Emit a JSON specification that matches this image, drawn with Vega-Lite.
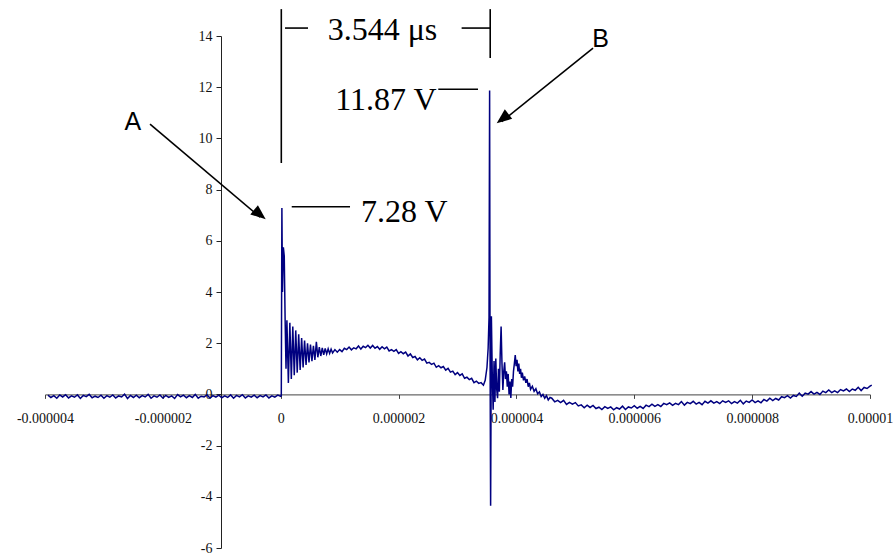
{
  "$schema": "https://vega.github.io/schema/vega-lite/v6.json",
  "width": 825,
  "height": 512,
  "autosize": "none",
  "padding": {"left": 45, "top": 36, "right": 24, "bottom": 5},
  "background": "white",
  "config": {"view": {"stroke": null}},
  "datasets": {
    "wave": [
      {"t":-3.95,"v":-0.03},{"t":-3.9,"v":-0.12},{"t":-3.85,"v":-0.05},{"t":-3.8,"v":-0.15},{"t":-3.75,"v":-0.02},{"t":-3.7,"v":-0.1},{"t":-3.65,"v":-0.01},{"t":-3.6,"v":-0.14},{"t":-3.55,"v":-0.06},{"t":-3.5,"v":-0.11},
      {"t":-3.45,"v":-0.02},{"t":-3.4,"v":-0.16},{"t":-3.35,"v":-0.04},{"t":-3.3,"v":-0.09},{"t":-3.25,"v":0.0},{"t":-3.2,"v":-0.13},{"t":-3.15,"v":-0.07},{"t":-3.1,"v":-0.12},{"t":-3.05,"v":-0.03},{"t":-3.0,"v":-0.15},
      {"t":-2.95,"v":-0.05},{"t":-2.9,"v":-0.11},{"t":-2.85,"v":-0.02},{"t":-2.8,"v":-0.14},{"t":-2.75,"v":-0.06},{"t":-2.7,"v":-0.1},{"t":-2.65,"v":0.01},{"t":-2.6,"v":-0.16},{"t":-2.55,"v":-0.04},{"t":-2.5,"v":-0.12},
      {"t":-2.45,"v":-0.03},{"t":-2.4,"v":-0.13},{"t":-2.35,"v":-0.05},{"t":-2.3,"v":-0.1},{"t":-2.25,"v":0.0},{"t":-2.2,"v":-0.15},{"t":-2.15,"v":-0.06},{"t":-2.1,"v":-0.11},{"t":-2.05,"v":-0.02},{"t":-2.0,"v":-0.14},
      {"t":-1.95,"v":-0.04},{"t":-1.9,"v":-0.12},{"t":-1.85,"v":-0.06},{"t":-1.8,"v":-0.16},{"t":-1.75,"v":-0.01},{"t":-1.7,"v":-0.1},{"t":-1.65,"v":-0.03},{"t":-1.6,"v":-0.13},{"t":-1.55,"v":-0.05},{"t":-1.5,"v":-0.12},
      {"t":-1.45,"v":0.0},{"t":-1.4,"v":-0.15},{"t":-1.35,"v":-0.07},{"t":-1.3,"v":-0.1},{"t":-1.25,"v":-0.02},{"t":-1.2,"v":-0.14},{"t":-1.15,"v":-0.05},{"t":-1.1,"v":-0.11},{"t":-1.05,"v":-0.03},{"t":-1.0,"v":-0.13},
      {"t":-0.95,"v":-0.06},{"t":-0.9,"v":-0.12},{"t":-0.85,"v":-0.02},{"t":-0.8,"v":-0.15},{"t":-0.75,"v":-0.04},{"t":-0.7,"v":-0.1},{"t":-0.65,"v":-0.01},{"t":-0.6,"v":-0.14},{"t":-0.55,"v":-0.06},{"t":-0.5,"v":-0.11},
      {"t":-0.45,"v":-0.03},{"t":-0.4,"v":-0.13},{"t":-0.35,"v":-0.05},{"t":-0.3,"v":-0.1},{"t":-0.25,"v":-0.02},{"t":-0.2,"v":-0.14},{"t":-0.15,"v":-0.06},{"t":-0.1,"v":-0.11},{"t":-0.05,"v":-0.03},{"t":0.0,"v":-0.08},
      {"t":0.01,"v":-0.05},{"t":0.02,"v":7.28},{"t":0.03,"v":4.0},{"t":0.045,"v":5.75},{"t":0.06,"v":5.4},{"t":0.075,"v":2.9},{"t":0.09,"v":1.0},
      {"t":0.105,"v":2.9},{"t":0.13,"v":0.45},{"t":0.155,"v":2.8},{"t":0.18,"v":0.6},{"t":0.205,"v":2.65},{"t":0.23,"v":0.75},{"t":0.255,"v":2.5},{"t":0.28,"v":0.85},{"t":0.305,"v":2.35},{"t":0.33,"v":0.95},
      {"t":0.355,"v":2.2},{"t":0.38,"v":1.05},{"t":0.405,"v":2.1},{"t":0.43,"v":1.15},{"t":0.455,"v":2.0},{"t":0.48,"v":1.25},{"t":0.505,"v":1.95},{"t":0.53,"v":1.3},{"t":0.555,"v":1.9},{"t":0.58,"v":1.35},
      {"t":0.605,"v":2.05},{"t":0.63,"v":1.45},{"t":0.655,"v":1.85},{"t":0.68,"v":1.5},{"t":0.705,"v":1.82},{"t":0.73,"v":1.55},{"t":0.755,"v":1.8},{"t":0.78,"v":1.58},{"t":0.805,"v":1.78},{"t":0.83,"v":1.6},
      {"t":0.855,"v":1.77},{"t":0.88,"v":1.62},
      {"t":0.92,"v":1.75},{"t":0.96,"v":1.65},{"t":1.0,"v":1.75},{"t":1.04,"v":1.67},{"t":1.08,"v":1.8},{"t":1.12,"v":1.75},{"t":1.16,"v":1.85},{"t":1.2,"v":1.74},{"t":1.24,"v":1.82},{"t":1.28,"v":1.78},
      {"t":1.32,"v":1.89},{"t":1.36,"v":1.77},{"t":1.4,"v":1.88},{"t":1.44,"v":1.83},{"t":1.48,"v":1.92},{"t":1.52,"v":1.81},{"t":1.56,"v":1.91},{"t":1.6,"v":1.8},{"t":1.64,"v":1.87},{"t":1.68,"v":1.76},
      {"t":1.72,"v":1.86},{"t":1.76,"v":1.78},{"t":1.8,"v":1.85},{"t":1.84,"v":1.7},{"t":1.88,"v":1.75},{"t":1.92,"v":1.68},{"t":1.96,"v":1.75},{"t":2.0,"v":1.6},{"t":2.04,"v":1.67},{"t":2.08,"v":1.59},
      {"t":2.12,"v":1.65},{"t":2.16,"v":1.5},{"t":2.2,"v":1.58},{"t":2.24,"v":1.44},{"t":2.28,"v":1.48},{"t":2.32,"v":1.35},{"t":2.36,"v":1.43},{"t":2.4,"v":1.33},{"t":2.44,"v":1.38},{"t":2.48,"v":1.22},
      {"t":2.52,"v":1.25},{"t":2.56,"v":1.17},{"t":2.6,"v":1.22},{"t":2.64,"v":1.06},{"t":2.68,"v":1.12},{"t":2.72,"v":1.04},{"t":2.76,"v":1.09},{"t":2.8,"v":0.95},{"t":2.84,"v":1.02},{"t":2.88,"v":0.87},
      {"t":2.92,"v":0.91},{"t":2.96,"v":0.77},{"t":3.0,"v":0.85},{"t":3.04,"v":0.74},{"t":3.08,"v":0.8},{"t":3.12,"v":0.63},{"t":3.16,"v":0.67},{"t":3.2,"v":0.58},{"t":3.24,"v":0.63},{"t":3.28,"v":0.46},
      {"t":3.32,"v":0.52},{"t":3.36,"v":0.43},{"t":3.4,"v":0.46},{"t":3.44,"v":0.36},
      {"t":3.47,"v":0.55},{"t":3.5,"v":1.05},{"t":3.52,"v":1.8},{"t":3.535,"v":3.0},{"t":3.545,"v":11.87},{"t":3.552,"v":2.0},{"t":3.562,"v":-4.35},{"t":3.575,"v":3.05},{"t":3.59,"v":0.8},{"t":3.605,"v":-0.6},
      {"t":3.62,"v":1.3},{"t":3.635,"v":-0.3},{"t":3.65,"v":1.4},{"t":3.665,"v":0.2},{"t":3.68,"v":-0.15},{"t":3.695,"v":1.0},{"t":3.71,"v":0.1},{"t":3.725,"v":1.6},{"t":3.74,"v":2.65},{"t":3.755,"v":1.2},
      {"t":3.77,"v":0.17},{"t":3.785,"v":0.9},{"t":3.8,"v":1.25},{"t":3.815,"v":0.6},{"t":3.83,"v":0.9},{"t":3.845,"v":0.3},{"t":3.86,"v":0.8},{"t":3.875,"v":0.0},{"t":3.89,"v":0.5},{"t":3.905,"v":-0.14},
      {"t":3.92,"v":0.6},{"t":3.935,"v":0.3},{"t":3.95,"v":0.9},{"t":3.965,"v":1.2},{"t":3.98,"v":1.54},{"t":3.995,"v":1.1},{"t":4.01,"v":1.35},{"t":4.025,"v":0.9},{"t":4.04,"v":1.2},{"t":4.055,"v":0.8},
      {"t":4.07,"v":1.0},{"t":4.085,"v":0.65},{"t":4.1,"v":0.85},{"t":4.12,"v":0.55},{"t":4.14,"v":0.7},{"t":4.16,"v":0.45},{"t":4.18,"v":0.6},{"t":4.2,"v":0.3},{"t":4.22,"v":0.45},{"t":4.24,"v":0.2},
      {"t":4.27,"v":0.32},{"t":4.3,"v":0.12},{"t":4.33,"v":0.22},{"t":4.36,"v":0.02},{"t":4.39,"v":0.1},{"t":4.42,"v":-0.08},{"t":4.45,"v":0.0},{"t":4.48,"v":-0.15},{"t":4.51,"v":-0.05},{"t":4.54,"v":-0.22},
      {"t":4.57,"v":-0.12},
      {"t":4.6,"v":-0.15},{"t":4.65,"v":-0.29},{"t":4.7,"v":-0.23},{"t":4.75,"v":-0.32},{"t":4.8,"v":-0.23},{"t":4.85,"v":-0.39},{"t":4.9,"v":-0.31},{"t":4.95,"v":-0.38},{"t":5.0,"v":-0.32},{"t":5.05,"v":-0.45},
      {"t":5.1,"v":-0.41},{"t":5.15,"v":-0.52},{"t":5.2,"v":-0.42},{"t":5.25,"v":-0.51},{"t":5.3,"v":-0.43},{"t":5.35,"v":-0.55},{"t":5.4,"v":-0.5},{"t":5.45,"v":-0.59},{"t":5.5,"v":-0.48},{"t":5.55,"v":-0.55},
      {"t":5.6,"v":-0.49},{"t":5.65,"v":-0.6},{"t":5.7,"v":-0.52},{"t":5.75,"v":-0.57},{"t":5.8,"v":-0.46},{"t":5.85,"v":-0.59},{"t":5.9,"v":-0.49},{"t":5.95,"v":-0.53},{"t":6.0,"v":-0.44},{"t":6.05,"v":-0.54},
      {"t":6.1,"v":-0.47},{"t":6.15,"v":-0.55},{"t":6.2,"v":-0.42},{"t":6.25,"v":-0.48},{"t":6.3,"v":-0.38},{"t":6.35,"v":-0.47},{"t":6.4,"v":-0.4},{"t":6.45,"v":-0.47},{"t":6.5,"v":-0.35},{"t":6.55,"v":-0.4},
      {"t":6.6,"v":-0.33},{"t":6.65,"v":-0.43},{"t":6.7,"v":-0.35},{"t":6.75,"v":-0.4},{"t":6.8,"v":-0.28},{"t":6.85,"v":-0.42},{"t":6.9,"v":-0.31},{"t":6.95,"v":-0.36},{"t":7.0,"v":-0.27},{"t":7.05,"v":-0.38},
      {"t":7.1,"v":-0.31},{"t":7.15,"v":-0.4},{"t":7.2,"v":-0.27},{"t":7.25,"v":-0.34},{"t":7.3,"v":-0.25},{"t":7.35,"v":-0.34},{"t":7.4,"v":-0.28},{"t":7.45,"v":-0.36},{"t":7.5,"v":-0.25},{"t":7.55,"v":-0.31},
      {"t":7.6,"v":-0.25},{"t":7.65,"v":-0.36},{"t":7.7,"v":-0.28},{"t":7.75,"v":-0.34},{"t":7.8,"v":-0.23},{"t":7.85,"v":-0.37},{"t":7.9,"v":-0.26},{"t":7.95,"v":-0.31},{"t":8.0,"v":-0.22},{"t":8.05,"v":-0.32},
      {"t":8.1,"v":-0.25},{"t":8.15,"v":-0.33},{"t":8.2,"v":-0.2},{"t":8.25,"v":-0.26},{"t":8.3,"v":-0.15},{"t":8.35,"v":-0.24},{"t":8.4,"v":-0.16},{"t":8.45,"v":-0.22},{"t":8.5,"v":-0.09},{"t":8.55,"v":-0.13},
      {"t":8.6,"v":-0.05},{"t":8.65,"v":-0.14},{"t":8.7,"v":-0.04},{"t":8.75,"v":-0.08},{"t":8.8,"v":0.05},{"t":8.85,"v":-0.07},{"t":8.9,"v":0.05},{"t":8.95,"v":0.01},{"t":9.0,"v":0.11},{"t":9.05,"v":0.01},
      {"t":9.1,"v":0.08},{"t":9.15,"v":0.0},{"t":9.2,"v":0.13},{"t":9.25,"v":0.07},{"t":9.3,"v":0.17},{"t":9.35,"v":0.07},{"t":9.4,"v":0.14},{"t":9.45,"v":0.07},{"t":9.5,"v":0.19},{"t":9.55,"v":0.14},
      {"t":9.6,"v":0.21},{"t":9.65,"v":0.11},{"t":9.7,"v":0.21},{"t":9.75,"v":0.16},{"t":9.8,"v":0.28},{"t":9.85,"v":0.15},{"t":9.9,"v":0.27},{"t":9.95,"v":0.23},{"t":10.0,"v":0.32},{"t":10.03,"v":0.36}
    ],
    "seg": [
      {"x":0.01,"y":15.05,"x2":0.01,"y2":9.04},
      {"x":3.555,"y":15.05,"x2":3.555,"y2":13.14},
      {"x":0.073,"y":14.31,"x2":0.463,"y2":14.31},
      {"x":3.07,"y":14.31,"x2":3.555,"y2":14.31},
      {"x":2.674,"y":11.92,"x2":3.348,"y2":11.92},
      {"x":0.187,"y":7.33,"x2":1.176,"y2":7.33},
      {"x":-2.218,"y":10.56,"x2":-0.35,"y2":6.92},
      {"x":5.3,"y":13.53,"x2":3.75,"y2":10.66}
    ],
    "serif": [
      {"x":1.727,"y":13.84,"label":"3.544 μs"},
      {"x":1.784,"y":11.11,"label":"11.87 V"},
      {"x":2.096,"y":6.75,"label":"7.28 V"}
    ],
    "sans": [
      {"x":-2.51,"y":10.33,"label":"A"},
      {"x":5.43,"y":13.58,"label":"B"}
    ],
    "headA": [{"x":-0.255,"y":6.84}],
    "headB": [{"x":3.665,"y":10.59}]
  },
  "layer": [
    {
      "data": {"name": "wave"},
      "mark": {"type": "line", "color": "#000080", "strokeWidth": 1.5},
      "encoding": {
        "x": {
          "field": "t", "type": "quantitative",
          "scale": {"domain": [-4, 10], "nice": false, "zero": false},
          "axis": {
            "orient": "bottom", "offset": -153.6, "title": null, "grid": false,
            "values": [-4, -2, 0, 2, 4, 6, 8, 10],
            "labelExpr": "replace(format(datum.value / 1000000, '.6~f'), '\u2212', '-')",
            "labelFont": "Liberation Serif", "labelFontSize": 14, "labelColor": "#111",
            "labelPadding": 13, "tickSize": 4, "tickColor": "#444", "domainColor": "#444",
            "labelOverlap": false, "labelFlush": false
          }
        },
        "y": {
          "field": "v", "type": "quantitative",
          "scale": {"domain": [-6, 14], "nice": false, "zero": false},
          "axis": {
            "orient": "left", "offset": -176, "title": null, "grid": false,
            "values": [-6, -4, -2, 0, 2, 4, 6, 8, 10, 12, 14],
            "labelExpr": "replace(format(datum.value, 'd'), '\u2212', '-')",
            "labelFont": "Liberation Serif", "labelFontSize": 14, "labelColor": "#111",
            "labelPadding": 4, "tickSize": 5, "tickColor": "#222", "domainColor": "#222",
            "labelOverlap": false, "labelFlush": false
          }
        }
      }
    },
    {
      "data": {"name": "seg"},
      "mark": {"type": "rule", "color": "black", "strokeWidth": 1.6},
      "encoding": {
        "x": {"field": "x", "type": "quantitative"},
        "y": {"field": "y", "type": "quantitative"},
        "x2": {"field": "x2"},
        "y2": {"field": "y2"}
      }
    },
    {
      "data": {"name": "headA"},
      "mark": {"type": "point", "shape": "M0,0L-0.8,2L0.8,2Z", "size": 225, "filled": true, "color": "black", "opacity": 1, "angle": 129.5, "strokeWidth": 0},
      "encoding": {
        "x": {"field": "x", "type": "quantitative"},
        "y": {"field": "y", "type": "quantitative"}
      }
    },
    {
      "data": {"name": "headB"},
      "mark": {"type": "point", "shape": "M0,0L-0.8,2L0.8,2Z", "size": 225, "filled": true, "color": "black", "opacity": 1, "angle": 232, "strokeWidth": 0},
      "encoding": {
        "x": {"field": "x", "type": "quantitative"},
        "y": {"field": "y", "type": "quantitative"}
      }
    },
    {
      "data": {"name": "serif"},
      "mark": {"type": "text", "font": "Liberation Serif", "fontSize": 32, "align": "center", "baseline": "alphabetic", "color": "black"},
      "encoding": {
        "x": {"field": "x", "type": "quantitative"},
        "y": {"field": "y", "type": "quantitative"},
        "text": {"field": "label"}
      }
    },
    {
      "data": {"name": "sans"},
      "mark": {"type": "text", "font": "Liberation Sans", "fontSize": 25, "align": "center", "baseline": "alphabetic", "color": "black"},
      "encoding": {
        "x": {"field": "x", "type": "quantitative"},
        "y": {"field": "y", "type": "quantitative"},
        "text": {"field": "label"}
      }
    }
  ]
}
